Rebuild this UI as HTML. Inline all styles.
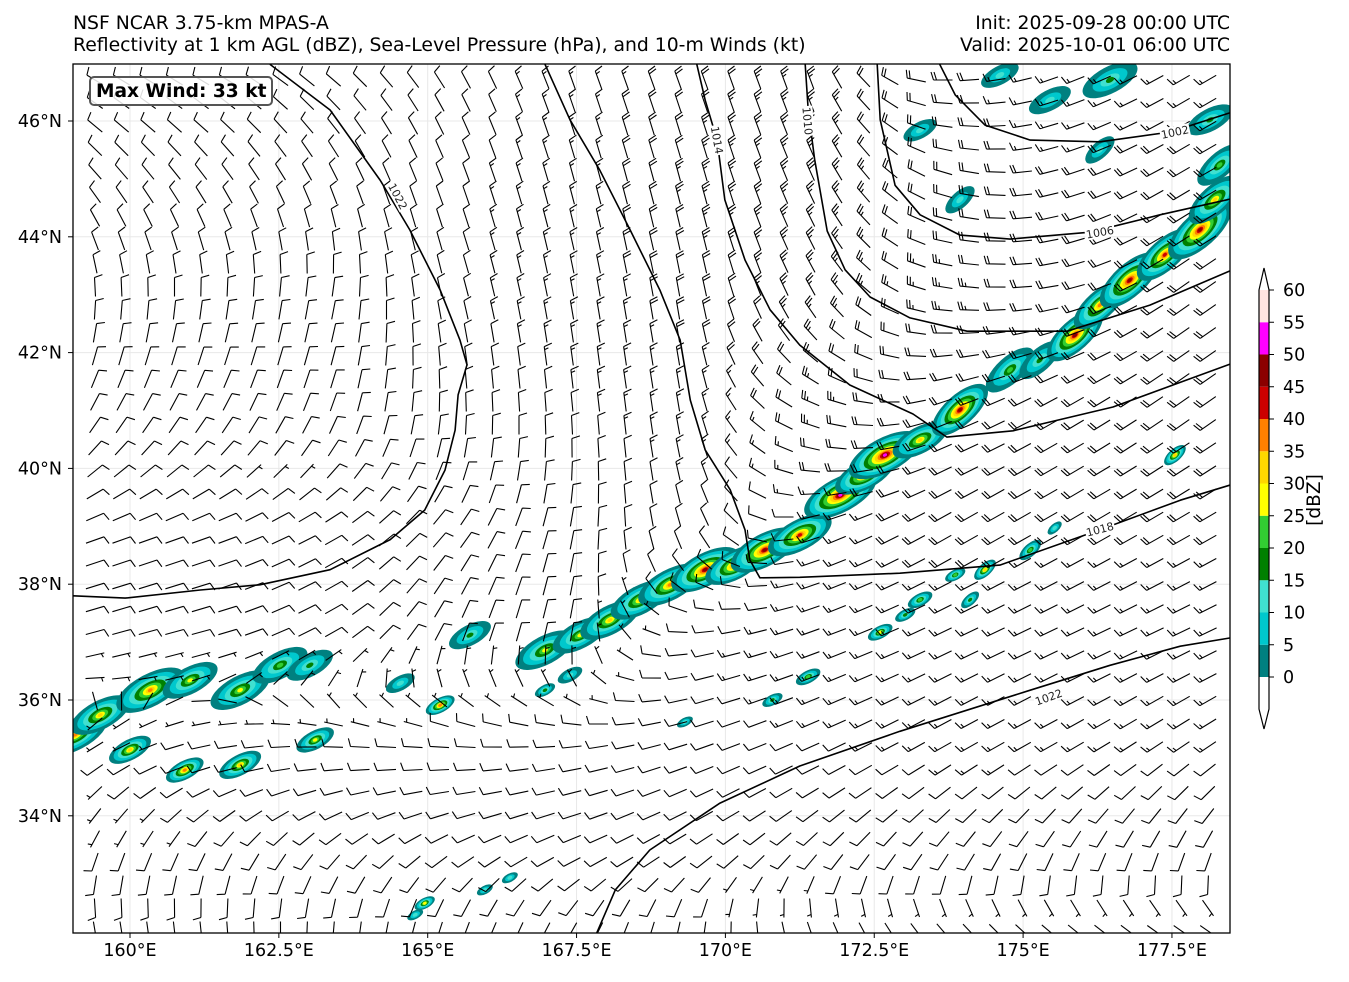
<!DOCTYPE html>
<html><head><meta charset="utf-8">
<style>
html,body{margin:0;padding:0;background:#fff;}
body{width:1349px;height:977px;overflow:hidden;font-family:"Liberation Sans","DejaVu Sans",sans-serif;}
svg text{font-family:"DejaVu Sans","Liberation Sans",sans-serif;}
</style></head>
<body>
<svg id="fig" width="1349" height="977" viewBox="0 0 1349 977" xmlns="http://www.w3.org/2000/svg">
  <rect x="0" y="0" width="1349" height="977" fill="#fff"/>
  <text x="73" y="29" font-size="18.8">NSF NCAR 3.75-km MPAS-A</text>
  <text x="73" y="51" font-size="18.8">Reflectivity at 1 km AGL (dBZ), Sea-Level Pressure (hPa), and 10-m Winds (kt)</text>
  <text x="1230" y="29" font-size="18.8" text-anchor="end">Init: 2025-09-28 00:00 UTC</text>
  <text x="1230" y="51" font-size="18.8" text-anchor="end">Valid: 2025-10-01 06:00 UTC</text>
  <defs><clipPath id="plotclip"><rect x="73" y="64" width="1157" height="869"/></clipPath></defs>
  <g id="grid"></g>
  <g id="refl" clip-path="url(#plotclip)"></g>
  <g id="barbs" clip-path="url(#plotclip)"></g>
  <g id="isobars" clip-path="url(#plotclip)"></g>
  <rect x="73" y="64" width="1157" height="869" fill="none" stroke="#000" stroke-width="1.3"/>
  <g id="axes"></g>
  <g>
    <rect x="90" y="77" width="182" height="28" rx="4" fill="#fff" fill-opacity="0.85" stroke="#555" stroke-width="2"/>
    <text x="96" y="97" font-size="18.6" font-weight="bold">Max Wind: 33 kt</text>
  </g>
  <g id="cbar"></g>
  <text x="0" y="0" font-size="18.6" text-anchor="middle" transform="translate(1320,500) rotate(-90)">[dBZ]</text>
</svg>
<script>
const NS='http://www.w3.org/2000/svg';
// ---- data ----
const lonTicks=[160,162.5,165,167.5,170,172.5,175,177.5];
const lonTickLabels=['160°E','162.5°E','165°E','167.5°E','170°E','172.5°E','175°E','177.5°E'];
const latTicks=[34,36,38,40,42,44,46];
const latTickLabels=['34°N','36°N','38°N','40°N','42°N','44°N','46°N'];
const cbarLevels=[0,5,10,15,20,25,30,35,40,45,50,55,60];
const cbarColors=['#008080','#00c8cd','#40e0d0','#008000','#32cd32','#ffff00','#ffd700','#ff8000','#cc0000','#8b0000','#ff00ff','#ffe4e1'];
// wind field (direction from, deg; speed kt) on coarse grid
const windLats=[46.8,45,43,41,39,37,35,33,32.2];
const windLons=[159.5,161.5,163.5,165.5,167.5,169.5,171.5,173.5,175.5,177.5];
const windDir=[
 [300,300,310,330,340,340,340,270,250,240],
 [320,325,335,340,345,345,335,290,255,240],
 [0,5,10,345,350,350,330,280,260,235],
 [30,30,20,0,355,350,290,250,240,235],
 [70,70,60,40,10,340,250,240,240,240],
 [75,75,60,20,10,260,250,245,245,245],
 [240,260,270,270,260,250,245,240,240,235],
 [195,200,215,230,240,230,215,210,200,195],
 [170,175,185,200,210,190,160,140,130,125]];
const windSpd=[
 [10,10,10,10,15,20,25,20,15,15],
 [10,10,10,12,15,25,28,20,18,20],
 [8,8,10,12,15,20,25,25,20,22],
 [8,8,8,10,12,15,25,20,20,20],
 [8,8,8,8,10,12,15,20,18,18],
 [8,8,8,8,8,12,15,15,15,15],
 [8,10,10,12,12,12,12,13,13,13],
 [8,8,8,8,8,8,8,10,10,10],
 [8,8,8,8,8,8,8,8,8,8]];
// isobars (lon, lat)
const isobar1022w={lon:[162.35,163.36,164.20,164.70,165.21,165.54,165.66,165.51,165.46,165.29,164.95,164.37,163.36,162.18,161.18,159.92,159.04],
 lat:[46.98,46.19,44.98,44.12,43.08,42.22,41.79,41.27,40.66,39.97,39.28,38.77,38.25,37.99,37.90,37.76,37.80]};
const isobar1018={lon:[166.97,167.39,167.89,168.40,168.90,169.24,169.41,169.66,170.08,170.33,170.41,170.58,171.25,172.93,174.61,176.29,177.64,178.47],
 lat:[46.98,46.02,45.15,44.12,43.08,42.22,41.18,40.32,39.63,38.94,38.42,38.11,38.12,38.19,38.33,38.94,39.45,39.71]};
const isobar1014={lon:[169.52,169.66,169.86,169.99,170.33,170.75,171.25,172.09,173.15,173.72,174.83,176.51,178.47],
 lat:[46.98,46.36,45.67,44.64,43.60,42.74,42.13,41.44,40.94,40.54,40.65,41.06,41.80]};
const isobar1010={lon:[171.34,171.39,171.50,171.71,172.01,172.43,173.10,174.06,175.74,177.13,178.47],
 lat:[46.98,46.19,45.33,44.10,43.43,42.96,42.60,42.37,42.37,42.82,43.41]};
const isobar1006={lon:[172.55,172.60,172.85,173.27,173.94,174.78,176.12,177.30,178.47],
 lat:[46.98,46.02,44.89,44.38,44.03,43.96,44.08,44.38,44.65]};
const isobar1002={lon:[173.60,173.86,174.36,175.12,176.29,177.47,178.47],
 lat:[46.98,46.45,45.93,45.67,45.64,45.81,46.14]};
const isobar1022e={lon:[167.84,168.15,168.73,169.91,171.25,172.93,175.12,176.46,177.64,178.47],
 lat:[31.98,32.72,33.41,34.22,34.86,35.46,36.17,36.60,36.93,37.07]};
const isobarLabels=['1022','1018','1014','1010','1006','1002','1022'];
const labelLon=[164.50,176.29,169.86,171.38,176.29,177.55,175.43];
const labelLat=[44.70,38.95,45.67,46.0,44.08,45.81,36.05];
const labelRot=[62,-15,80,85,-10,-12,-20];
// reflectivity cells: lon, lat, max dBZ
const cellLon=[166.97,167.56,168.06,168.57,169.07,169.66,170.16,170.66,171.25,171.93,172.34,172.68,173.27,173.94,174.78,175.28,175.87,176.29,176.79,177.38,177.97,178.22,178.30,178.14,
 176.46,175.45,174.61,173.27,176.29,173.94,
 159.08,159.50,160.34,161.01,161.85,162.52,163.02,160.00,160.92,161.85,163.11,165.71,165.21,164.54,167.39,
 177.55,175.12,174.36,173.86,173.27,174.11,172.60,173.02,171.39,170.79,166.97,164.95,165.96,166.38,164.79,169.32,175.53];
const cellLat=[36.86,37.12,37.38,37.73,37.99,38.25,38.33,38.59,38.85,39.54,39.89,40.23,40.49,41.01,41.70,41.87,42.30,42.82,43.25,43.69,44.12,44.64,45.24,46.02,
 46.71,46.36,46.79,45.84,45.50,44.64,
 35.40,35.74,36.17,36.34,36.17,36.60,36.60,35.14,34.79,34.88,35.31,37.12,35.91,36.29,36.43,
 40.23,38.59,38.25,38.16,37.73,37.73,37.17,37.47,36.40,36.00,36.17,32.49,32.72,32.93,32.29,35.62,38.97];
const cellMax=[25,25,30,30,35,45,40,45,40,50,40,50,30,45,20,15,45,35,45,40,45,30,20,15,
 15,10,10,10,10,10,
 35,30,35,25,25,20,15,30,35,30,25,15,35,10,10,
 30,20,30,20,20,15,25,15,20,15,15,25,10,10,10,10,10];
const cellSize=[1.3,1.2,1.3,1.3,1.4,1.5,1.3,1.5,1.4,1.6,1.3,1.6,1.2,1.4,1.2,1.0,1.4,1.3,1.5,1.4,1.6,1.3,1.1,1.0,
 1.2,0.9,0.8,0.7,0.7,0.7,
 1.4,1.3,1.5,1.2,1.3,1.2,1.0,0.9,0.8,0.9,0.8,0.9,0.6,0.6,0.5,
 0.5,0.5,0.5,0.4,0.5,0.4,0.5,0.4,0.5,0.4,0.4,0.4,0.3,0.3,0.3,0.3,0.3];
// ---- scales ----
function xs(lon){return 130+(lon-160)*59.54;}
function ys(lat){return 121+(46-lat)*57.9;}
function cy(v){return 677-(v/5)*32.25;}
function mk(tag,attrs,parent){const e=document.createElementNS(NS,tag);for(const k in attrs)e.setAttribute(k,attrs[k]);parent.appendChild(e);return e;}
// grid + ticks
const gridG=document.getElementById('grid'), axesG=document.getElementById('axes');
lonTicks.forEach((lo,i)=>{
  const x=xs(lo);
  const g=mk('line',{x1:x,y1:64,x2:x,y2:933,stroke:'#e8e8e8','stroke-width':1},gridG);
  
  
  const t=mk('line',{x1:x,y1:933,x2:x,y2:938,stroke:'#000','stroke-width':1},axesG);
  
  
  const l=mk('text',{x:x,y:956,'font-size':17.5,'text-anchor':'middle'},axesG);
  l.textContent=lonTickLabels[i];
  
  
});
latTicks.forEach((la,i)=>{
  const y=ys(la);
  const g=mk('line',{x1:73,y1:y,x2:1230,y2:y,stroke:'#e8e8e8','stroke-width':1},gridG);
  
  
  const t=mk('line',{x1:68,y1:y,x2:73,y2:y,stroke:'#000','stroke-width':1},axesG);
  
  
  const l=mk('text',{x:62,y:y+6,'font-size':17.5,'text-anchor':'end'},axesG);
  l.textContent=latTickLabels[i];
  
  
});
// reflectivity
const reflG=document.getElementById('refl');
for(let i=0;i<cellLon.length;i++){
  const cx=xs(cellLon[i]), cyy=ys(cellLat[i]);
  const n=Math.floor(cellMax[i]/5)+1;
  const s=cellSize[i];
  const ang=cellLon[i]>173.9&&cellLat[i]<46?-42:-28;
  const g=mk('g',{transform:`translate(${cx},${cyy}) rotate(${ang})`},reflG);
  
  
  for(let k=0;k<n;k++){
    const f=Math.pow(1-k/(n+0.2),1.8);
    mk('ellipse',{cx:0,cy:0,rx:(24*s*f+1.5).toFixed(1),ry:(10*s*f+1.2).toFixed(1),fill:cbarColors[k]},g);
  }
}
// wind barbs
function windAt(lon,lat){
  let j=0;while(j<windLons.length-2&&lon>windLons[j+1])j++;
  let i=0;while(i<windLats.length-2&&lat<windLats[i+1])i++;
  let tx=(lon-windLons[j])/(windLons[j+1]-windLons[j]);tx=Math.max(0,Math.min(1,tx));
  let ty=(lat-windLats[i])/(windLats[i+1]-windLats[i]);ty=Math.max(0,Math.min(1,ty));
  let u=0,v=0;
  [[i,j,(1-tx)*(1-ty)],[i,j+1,tx*(1-ty)],[i+1,j,(1-tx)*ty],[i+1,j+1,tx*ty]].forEach(([a,b,w])=>{
    const d=windDir[a][b]*Math.PI/180;u+=w*windSpd[a][b]*Math.sin(d);v+=w*windSpd[a][b]*Math.cos(d);
  });
  return {dir:Math.atan2(u,v),spd:Math.hypot(u,v)};
}
const barbsG=document.getElementById('barbs');
for(let py=80;py<933;py+=23){
  for(let px=95;px<1230;px+=26.5){
    const lon=160+(px-130)/59.54, lat=46-(py-121)/57.9;
    const w=windAt(lon,lat);
    const fx=Math.sin(w.dir), fy=-Math.cos(w.dir);
    const rx=Math.cos(w.dir), ry=Math.sin(w.dir);
    const L=19;
    const sx=px-L*0.5*fx, sy=py-L*0.5*fy;
    const ex=sx+L*fx, ey=sy+L*fy;
    let d=`M${sx.toFixed(1)} ${sy.toFixed(1)}L${ex.toFixed(1)} ${ey.toFixed(1)}`;
    let sp=Math.round(w.spd/5)*5;
    let full=Math.floor(sp/10), half=(sp%10)>=5?1:0;
    let pos=0;
    if(full===0&&half)pos=3;
    for(let k=0;k<full;k++){
      const qx=ex-pos*fx, qy=ey-pos*fy;
      d+=`M${qx.toFixed(1)} ${qy.toFixed(1)}l${(8*rx+2.5*fx).toFixed(1)} ${(8*ry+2.5*fy).toFixed(1)}`;
      pos+=3;
    }
    if(half){
      const qx=ex-pos*fx, qy=ey-pos*fy;
      d+=`M${qx.toFixed(1)} ${qy.toFixed(1)}l${(4*rx+1.2*fx).toFixed(1)} ${(4*ry+1.2*fy).toFixed(1)}`;
    }
    const p=mk('path',{d:d,stroke:'#000','stroke-width':1.1,fill:'none'},barbsG);
    
    
  }
}
// isobars
const isoG=document.getElementById('isobars');
[isobar1022w,isobar1018,isobar1014,isobar1010,isobar1006,isobar1002,isobar1022e].forEach((c,idx)=>{
  const pts=c.lon.map((lo,i)=>`${xs(lo).toFixed(1)},${ys(c.lat[i]).toFixed(1)}`).join(' ');
  const pl=mk('polyline',{points:pts,fill:'none',stroke:'#000','stroke-width':1.6,'stroke-linejoin':'round'},isoG);
  
  
});
isobarLabels.forEach((t,i)=>{
  const g=mk('g',{transform:`translate(${xs(labelLon[i]).toFixed(1)},${ys(labelLat[i]).toFixed(1)}) rotate(${labelRot[i]})`},isoG);
  
  
  mk('rect',{x:-15,y:-6,width:30,height:12,fill:'#fff'},g);
  const tx=mk('text',{x:0,y:4,'font-size':11,'text-anchor':'middle',fill:'#222'},g);
  tx.textContent=t;
});
// colorbar
const cbG=document.getElementById('cbar');
const cx0=1259, cw=10;
const bw=mk('rect',{x:cx0,y:cy(0),width:cw,height:32,fill:'#fff'},cbG);


for(let i=0;i<cbarColors.length;i++){
  const r=mk('rect',{x:cx0,y:cy(cbarLevels[i+1]),width:cw,height:(cy(cbarLevels[i])-cy(cbarLevels[i+1])).toFixed(2),fill:cbarColors[i]},cbG);
  
  
}
const cbTop=cy(60), cbBot=cy(0)+32;
const outline=mk('path',{d:`M${cx0} ${cbTop}L${cx0+cw/2} ${cbTop-22}L${cx0+cw} ${cbTop}L${cx0+cw} ${cbBot}L${cx0+cw/2} ${cbBot+20}L${cx0} ${cbBot}Z`,fill:'none',stroke:'#000','stroke-width':1.2},cbG);


cbarLevels.forEach(v=>{
  const y=cy(v);
  const t=mk('line',{x1:cx0+cw,y1:y,x2:cx0+cw+5,y2:y,stroke:'#000','stroke-width':1},cbG);
  
  
  const l=mk('text',{x:1283,y:y+6,'font-size':17.5},cbG);
  l.textContent=String(v);
  
  
});
</script>
</body></html>
